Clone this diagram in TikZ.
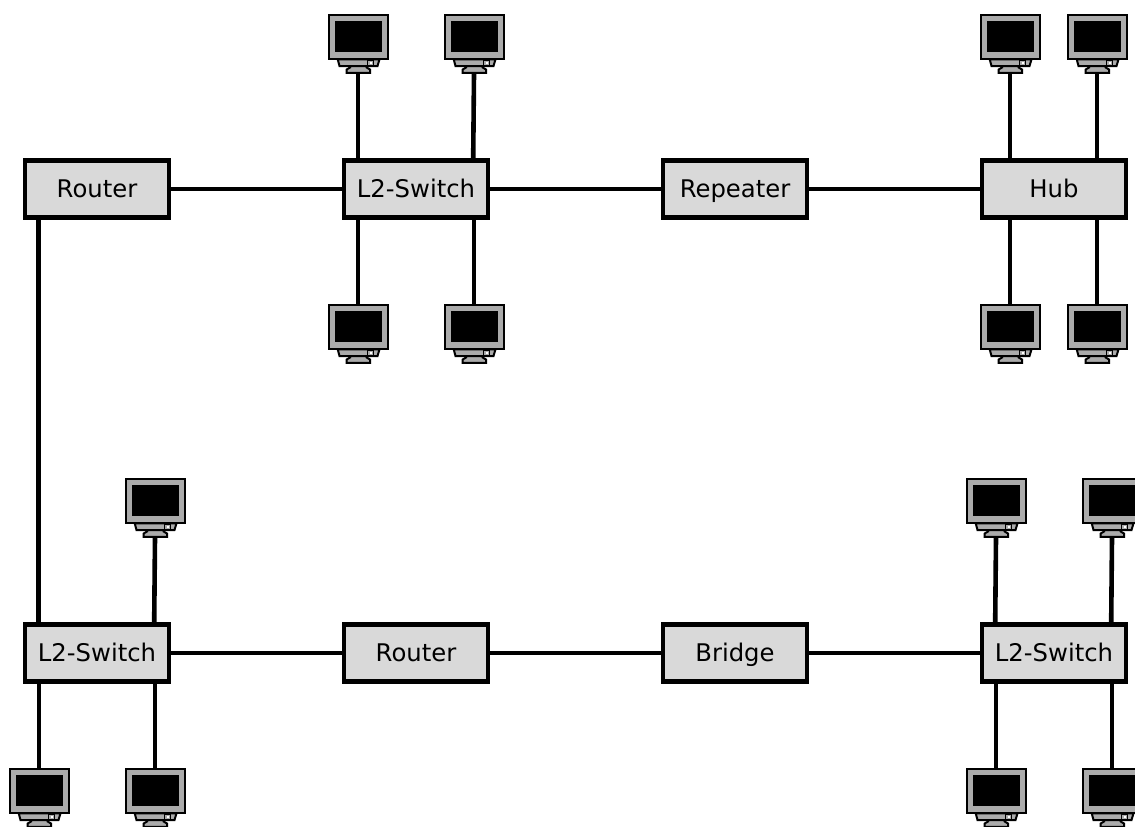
\documentclass[tikz,border=0pt]{standalone}
\usepackage{fontspec}
\setmainfont{DejaVu Sans}
\definecolor{boxfill}{HTML}{D9D9D9}
\definecolor{casefill}{HTML}{ABABAB}
\tikzset{
  x=1pt,y=-1pt,
  netbox/.style={draw=black,fill=boxfill,line width=4.8pt,minimum width=144pt,minimum height=57.2pt,inner sep=0pt,text height=17pt,text depth=0pt,font=\fontsize{24.3}{28}\selectfont},
  hostbox/.style={minimum width=60pt,minimum height=60pt,inner sep=0pt,outer sep=0pt},
  link/.style={draw=black,line width=4.6pt},
  part/.style={draw=black,line width=2pt,fill=casefill,line join=miter},
  pics/host/.style={code={
    \path[part] (-20.3,15.3) -- (21.5,15.3) -- (19.5,22) -- (-18.5,22) -- cycle;
    \path[part] (-8,22) -- (8.7,22) -- (8.7,23.5) -- (12,25.5) -- (12,28.9) -- (-11.3,28.9) -- (-11.3,25.5) -- (-8,23.5) -- cycle;
    \path[part] (-29,-29) rectangle (29.7,15.3);
    \fill[black] (-23.3,-23) rectangle (24,8);
    \path[draw=black,line width=.8pt,fill=casefill] (9.7,16.3) rectangle (15.3,21.7);
    \fill[white] (11.5,18) rectangle (13.5,20);
  }}
}
\newcommand{\hostat}[3]{\node[hostbox] (#1) at (#2+30,#3+30) {}; \pic at (#1.center) {host};}
\begin{document}
\begin{tikzpicture}
\useasboundingbox (0,0) rectangle (1135,827);
\clip (0,0) rectangle (1135,827);
% network devices
\node[netbox] (r1) at (97,189) {Router};
\node[netbox] (s1) at (416,189) {L2-Switch};
\node[netbox] (rp) at (735,189) {Repeater};
\node[netbox] (hb) at (1054,189) {Hub};
\node[netbox] (s2) at (97,653) {L2-Switch};
\node[netbox] (r2) at (416,653) {Router};
\node[netbox] (br) at (735,653) {Bridge};
\node[netbox] (s3) at (1054,653) {L2-Switch};
% hosts
\hostat{a1}{328}{14}
\hostat{a2}{444}{14}
\hostat{a3}{328}{304}
\hostat{a4}{444}{304}
\hostat{b1}{980}{14}
\hostat{b2}{1067}{14}
\hostat{b3}{980}{304}
\hostat{b4}{1067}{304}
\hostat{c1}{125}{478}
\hostat{c2}{9}{768}
\hostat{c3}{125}{768}
\hostat{d1}{966}{478}
\hostat{d2}{1082}{478}
\hostat{d3}{966}{768}
\hostat{d4}{1082}{768}
% links
\draw[link] (r1.east) -- (s1.west);
\draw[link] (s1.east) -- (rp.west);
\draw[link] (rp.east) -- (hb.west);
\draw[link] (s2.east) -- (r2.west);
\draw[link] (r2.east) -- (br.west);
\draw[link] (br.east) -- (s3.west);
\draw[link] ([xshift=-58.3]r1.south) -- ([xshift=-58.3]s2.north);
\foreach \h/\s in {a1/s1,b1/hb,b2/hb}
  \draw[link] (\h.south) -- (\h.south |- \s.north);
\foreach \h/\s in {a2/s1,c1/s2,d1/s3,d2/s3}
  \draw[link] (\h.south) -- ([xshift=-.8]\h.south |- \s.north);
\foreach \h/\s in {a3/s1,a4/s1,b3/hb,b4/hb,c2/s2,c3/s2,d3/s3,d4/s3}
  \draw[link] (\h.north) -- (\h.north |- \s.south);
\end{tikzpicture}
\end{document}
